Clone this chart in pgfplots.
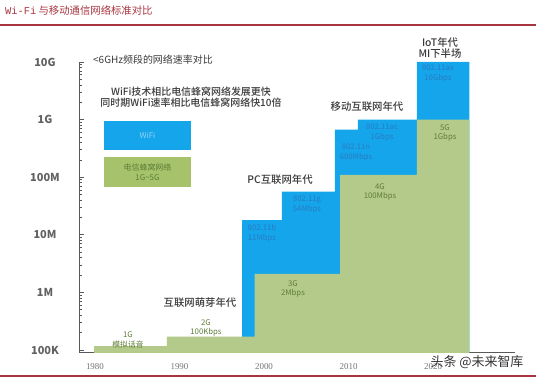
\documentclass[border=0pt]{standalone}
\usepackage{pgfplots}
\pgfplotsset{compat=1.18}
\usepackage{fontspec}
\setmainfont{Noto Sans CJK SC}
\newfontfamily\med{Noto Sans CJK SC Medium}
\newfontfamily\serif{Liberation Serif}
\newfontfamily\mono{Liberation Mono}
\definecolor{wblue}{HTML}{14A5EA}
\definecolor{cgreen}{HTML}{B4CA8A}
\definecolor{lgreen}{HTML}{A6C36C}
\definecolor{btext}{HTML}{2A7CC4}
\definecolor{gtext}{HTML}{5E7C36}
\definecolor{dred}{HTML}{A8343F}
\definecolor{tgray}{HTML}{3A3A3A}
\begin{document}
\begin{tikzpicture}[x=1bp,y=1bp]
\useasboundingbox (0,0) rectangle (536,380);
\begin{axis}[
  at={(79bp,28bp)}, anchor=south west,
  scale only axis, width=436bp, height=290bp,
  ymode=log, xmin=1978.11, xmax=2029.7, ymin=9.23e4, ymax=1e10,
  axis lines=left, axis line style={-, draw=black!65, line width=0.9pt},
  ytick={1e5,1e6,1e7,1e8,1e9,1e10},
  yticklabels={100K,1M,10M,100M,1G,10G},
  minor ytick={2e5,3e5,4e5,5e5,6e5,7e5,8e5,9e5,2e6,3e6,4e6,5e6,6e6,7e6,8e6,9e6,2e7,3e7,4e7,5e7,6e7,7e7,8e7,9e7,2e8,3e8,4e8,5e8,6e8,7e8,8e8,9e8,2e9,3e9,4e9,5e9,6e9,7e9,8e9,9e9},
  tick align=inside, major tick length=5bp, minor tick length=3bp,
  ytick style={draw=black!65, line width=0.7pt},
  yticklabel style={font=\bfseries\fontsize{11}{11}\selectfont, text=black!62, anchor=center, xshift=-34bp},
  xtick={1980,1990,2000,2010,2020},
  xticklabels={1980,1990,2000,2010,2020},
  xtick style={draw=none},
  xticklabel style={font=\serif\fontsize{9}{9}\selectfont, text=black!55, anchor=center, yshift=-15bp},
]
\addplot[const plot, fill=wblue, draw=none] coordinates {
  (1997.4,1.8e7) (2002.1,5.6e7) (2008.4,6.7e8) (2011.1,1e9) (2018.1,1e10) (2024.3,1e10)
} \closedcycle;
\addplot[const plot, fill=cgreen, draw=none] coordinates {
  (1979.9,1.17e5) (1988.5,1.7e5) (1998.9,2.1e6) (2009.0,1.1e8) (2018.1,1e9) (2024.3,1e9)
} \closedcycle;
\end{axis}
% title and rules
\node[anchor=west, inner sep=0, text=dred, font=\fontsize{10.4}{11}\selectfont] at (5,369) {{\mono Wi-Fi} 与移动通信网络标准对比};
\draw[dred, line width=1.6pt] (0,355) -- (536,355);
\draw[dred, line width=1.6pt] (0,4) -- (536,4);
% legend
\fill[wblue] (104,230) rectangle (191,259);
\fill[lgreen] (104,193) rectangle (191,223);
\node[inner sep=0, text=white!55!wblue, font=\fontsize{8}{9}\selectfont] at (147.5,244.5) {WiFi};
\node[inner sep=0, align=center, text=gtext, font=\fontsize{8}{10}\selectfont] at (147.5,208) {电信蜂窝网络\\1G\textasciitilde 5G};
% annotations
\node[anchor=west, inner sep=0, text=tgray, font=\fontsize{10}{11}\selectfont] at (93,320) {<6GHz频段的网络速率对比};
\node[inner sep=0, align=center, text=tgray, font=\med\fontsize{10}{11}\selectfont] at (191,282.5) {WiFi技术相比电信蜂窝网络发展更快\\同时期WiFi速率相比电信蜂窝网络快10倍};
\node[inner sep=0, text=tgray, font=\med\fontsize{10.4}{11}\selectfont] at (280,200) {PC互联网年代};
\node[inner sep=0, text=tgray, font=\med\fontsize{10.4}{11}\selectfont] at (367,273) {移动互联网年代};
\node[inner sep=0, align=center, text=tgray, font=\med\fontsize{10.4}{10.5}\selectfont] at (440,332) {IoT年代\\MI下半场};
\node[inner sep=0, text=tgray, font=\med\fontsize{10.4}{11}\selectfont] at (200,77) {互联网萌芽年代};
% bar labels
\begin{scope}[every node/.style={inner sep=0, align=center, font=\fontsize{7.8}{10}\selectfont}]
\node[text=gtext] at (128,40) {1G\\模拟话音};
\node[text=gtext] at (206,52) {2G\\100Kbps};
\node[text=gtext] at (293,91) {3G\\2Mbps};
\node[text=gtext] at (380,188) {4G\\100Mbps};
\node[text=gtext] at (445,247) {5G\\1Gbps};
\node[text=btext] at (262,147) {802.11b\\11Mbps};
\node[text=btext] at (307,175) {802.11g\\54Mbps};
\node[text=btext] at (356,227.5) {802.11n\\600Mbps};
\node[text=btext] at (382,247) {802.11ac\\1Gbps};
\node[text=btext] at (438,306) {802.11ax\\10Gbps};
\end{scope}
% watermark
\node[inner sep=0, text=black!80, font=\fontsize{13}{14}\selectfont] at (477,18) {头条 @未来智库};
\end{tikzpicture}
\end{document}
